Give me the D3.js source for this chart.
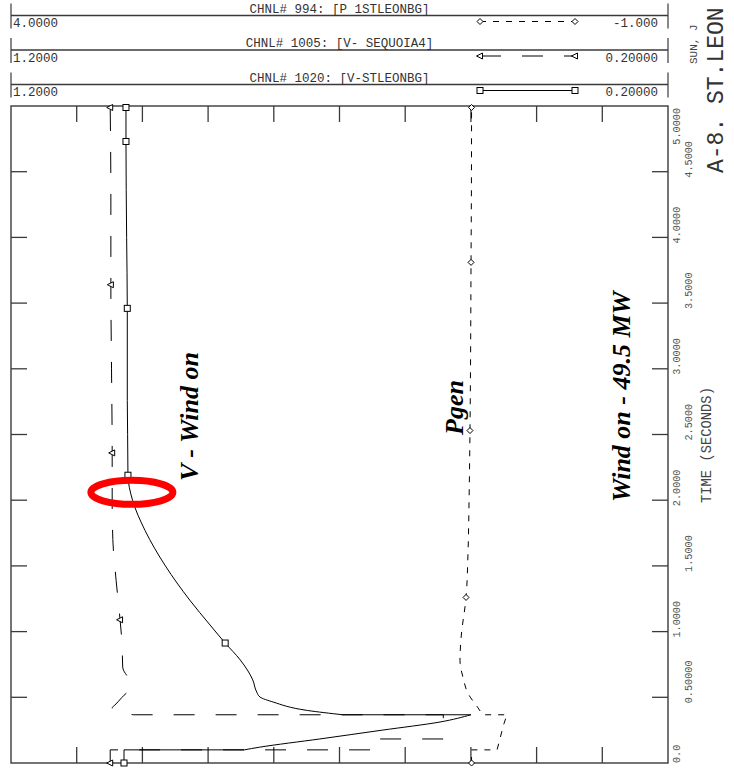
<!DOCTYPE html>
<html><head><meta charset="utf-8">
<script src="https://cdn.jsdelivr.net/npm/d3@7/dist/d3.min.js"></script>
<style>html,body{margin:0;padding:0;background:#fff;}svg{display:block;}</style>
</head><body>
<script>
// ---------- data ----------
const channelTitles = ["CHNL# 994: [P 1STLEONBG]", "CHNL# 1005: [V- SEQUOIA4]", "CHNL# 1020: [V-STLEONBG]"];
const channelLeftLabels = ["4.0000", "1.2000", "1.2000"];
const channelRightLabels = ["-1.000", "0.20000", "0.20000"];
const channelDomains = [[4.0, -1.0], [1.2, 0.2], [1.2, 0.2]];

const timeTicks = [0, 0.5, 1.0, 1.5, 2.0, 2.5, 3.0, 3.5, 4.0, 4.5, 5.0];
const timeTickLabels = ["0.0", "0.50000", "1.0000", "1.5000", "2.0000", "2.5000", "3.0000", "3.5000", "4.0000", "4.5000", "5.0000"];
const valueTickCount = 10;

// CHNL# 994  P 1STLEONBG (pu)
const pTime  = [0, 0.1, 0.1, 0.183, 0.30, 0.367, 0.367, 0.42, 0.53, 0.65, 0.78, 0.95, 1.26, 1.6, 2.0, 2.53, 3.0, 3.81, 4.4, 5.0];
const pValue = [0.495, 0.495, 0.301, 0.279, 0.248, 0.225, 0.41, 0.446, 0.522, 0.560, 0.583, 0.575, 0.537, 0.522, 0.514, 0.507, 0.503, 0.499, 0.496, 0.495];
const pMarkerTimes = [0, 1.26, 2.53, 3.81, 5.0];

// CHNL# 1005  V- SEQUOIA4 (pu)
const vSeqTime  = [0, 0.1, 0.1, 0.183, 0.183, 0.367, 0.367, 0.395, 0.42, 0.44, 0.50, 0.59, 0.73, 0.91, 1.09, 1.39, 1.70, 2.0, 2.36, 3.0, 3.64, 4.3, 5.0];
const vSeqValue = [1.049, 1.049, 0.638, 0.638, 0.542, 0.542, 1.014, 1.042, 1.046, 1.042, 1.031, 1.016, 1.030, 1.031, 1.034, 1.040, 1.045, 1.046, 1.046, 1.047, 1.048, 1.048, 1.049];
const vSeqMarkerTimes = [0, 1.09, 2.36, 3.64, 5.0];

// CHNL# 1020  V-STLEONBG (pu)
const vStlTime  = [0, 0.1, 0.1, 0.12, 0.183, 0.25, 0.312, 0.367, 0.367, 0.40, 0.464, 0.502, 0.54, 0.632, 0.784, 0.913, 1.05, 1.24, 1.5, 1.77, 2.0, 2.19, 2.5, 2.76, 3.46, 4.0, 4.73, 5.0];
const vStlValue = [1.028, 1.028, 0.845, 0.822, 0.730, 0.635, 0.547, 0.500, 0.695, 0.749, 0.801, 0.821, 0.826, 0.832, 0.851, 0.874, 0.897, 0.928, 0.965, 0.996, 1.015, 1.022, 1.0225, 1.023, 1.023, 1.024, 1.025, 1.025];
const vStlMarkerTimes = [0, 0.913, 2.19, 3.46, 4.73, 5.0];

// ---------- layout ----------
const W = 734, H = 769;
const L = 11, R = 668, T = 106, B = 763;
const svg = d3.select("body").append("svg").attr("width", W).attr("height", H);
const frameColor = "#3a3a3a";
const mono = "'Liberation Mono', 'DejaVu Sans Mono', monospace";

const y = d3.scaleLinear().domain([0, 5]).range([B, T]);
const xP = d3.scaleLinear().domain(channelDomains[0]).range([L, R]);
const xSeq = d3.scaleLinear().domain(channelDomains[1]).range([L, R]);
const xStl = d3.scaleLinear().domain(channelDomains[2]).range([L, R]);

// ---------- header ----------
const rowLines = [15.5, 50, 84.5];
const seriesStyles = [
  {dash: "6,7", marker: "diamond"},
  {dash: "21,21", marker: "triangle"},
  {dash: null, marker: "square"}
];

function drawMarker(g, type, cx, cy) {
  if (type === "square") {
    g.append("rect").attr("x", cx - 3).attr("y", cy - 3).attr("width", 6).attr("height", 6)
      .attr("fill", "#fff").attr("stroke", "#000").attr("stroke-width", 1);
  } else if (type === "diamond") {
    g.append("path").attr("d", `M${cx - 3},${cy}L${cx},${cy - 3}L${cx + 3},${cy}L${cx},${cy + 3}Z`)
      .attr("fill", "#fff").attr("stroke", "#000").attr("stroke-width", 1);
  } else {
    g.append("path").attr("d", `M${cx - 3.5},${cy}L${cx + 2.5},${cy - 3}L${cx + 2.5},${cy + 3}Z`)
      .attr("fill", "#fff").attr("stroke", "#000").attr("stroke-width", 1);
  }
}

const header = svg.append("g");
channelTitles.forEach((title, i) => {
  const ly = rowLines[i];
  header.append("line").attr("x1", L).attr("x2", R).attr("y1", ly).attr("y2", ly)
    .attr("stroke", frameColor).attr("stroke-width", 1.4);
  header.append("line").attr("x1", L).attr("x2", L).attr("y1", ly - 12).attr("y2", ly + 13)
    .attr("stroke", frameColor).attr("stroke-width", 1.2);
  header.append("line").attr("x1", R).attr("x2", R).attr("y1", ly - 12).attr("y2", ly + 13)
    .attr("stroke", frameColor).attr("stroke-width", 1.2);
  header.append("text").attr("x", (L + R) / 2).attr("y", ly - 3).attr("text-anchor", "middle")
    .attr("font-family", mono).attr("font-size", 12.5).attr("fill", "#333").text(title);
  header.append("text").attr("x", L + 2).attr("y", ly + 11.5)
    .attr("font-family", mono).attr("font-size", 12.5).attr("fill", "#333").text(channelLeftLabels[i]);
  header.append("text").attr("x", R - 10).attr("y", ly + 11.5).attr("text-anchor", "end")
    .attr("font-family", mono).attr("font-size", 12.5).attr("fill", "#333").text(channelRightLabels[i]);
  const sy = ly + 6;
  const st = seriesStyles[i];
  header.append("line").attr("x1", 480).attr("x2", 575).attr("y1", sy).attr("y2", sy)
    .attr("stroke", "#000").attr("stroke-width", 1).attr("stroke-dasharray", st.dash);
  drawMarker(header, st.marker, 480, sy);
  drawMarker(header, st.marker, 575, sy);
});

// ---------- frame & ticks ----------
const frame = svg.append("g");
frame.append("rect").attr("x", L).attr("y", T).attr("width", R - L).attr("height", B - T)
  .attr("fill", "none").attr("stroke", frameColor).attr("stroke-width", 1.4);

const vTicks = d3.range(1, valueTickCount).map(k => xStl.domain()[0] + (xStl.domain()[1] - xStl.domain()[0]) * k / valueTickCount);
vTicks.forEach(v => {
  const x = xStl(v);
  frame.append("line").attr("x1", x).attr("x2", x).attr("y1", T).attr("y2", T + 16).attr("stroke", frameColor).attr("stroke-width", 1.3);
  frame.append("line").attr("x1", x).attr("x2", x).attr("y1", B - 16).attr("y2", B).attr("stroke", frameColor).attr("stroke-width", 1.3);
});
timeTicks.slice(1, -1).forEach(t => {
  const yy = y(t);
  frame.append("line").attr("x1", L).attr("x2", L + 16).attr("y1", yy).attr("y2", yy).attr("stroke", frameColor).attr("stroke-width", 1.3);
  frame.append("line").attr("x1", R - 16).attr("x2", R).attr("y1", yy).attr("y2", yy).attr("stroke", frameColor).attr("stroke-width", 1.3);
});

// time tick labels (rotated)
timeTicks.forEach((t, i) => {
  const bx = (i % 2 === 0) ? 680 : 692;
  const txt = svg.append("text").attr("font-family", mono).attr("font-size", 10.2).attr("fill", "#555")
    .text(timeTickLabels[i]);
  const len = txt.node().getComputedTextLength();
  let start = Math.min(y(t) + 6, B);
  if (start - len < T + 2) start = T + 2 + len;
  txt.attr("transform", `translate(${bx},${start}) rotate(-90)`);
});

svg.append("text").attr("transform", `translate(711,503) rotate(-90)`)
  .attr("font-family", mono).attr("font-size", 13.8).attr("fill", "#444").text("TIME (SECONDS)");
svg.append("text").attr("transform", `translate(723,173) rotate(-90)`)
  .attr("font-family", mono).attr("font-size", 23).attr("fill", "#333").text("A-8. ST.LEON");
svg.append("text").attr("transform", `translate(697,64) rotate(-90)`)
  .attr("font-family", mono).attr("font-size", 11).attr("fill", "#444").text("SUN,  J");

// ---------- curves ----------
function buildPath(times, values, xs) {
  const segs = [];
  let cur = [];
  times.forEach((t, i) => {
    if (i > 0 && t === times[i - 1]) { segs.push(cur); cur = []; }
    cur.push([xs(values[i]), y(t)]);
  });
  segs.push(cur);
  const line = d3.line().curve(d3.curveMonotoneY);
  let d = "";
  segs.forEach((s, k) => {
    let sd = s.length > 1 ? line(s) : `M${s[0][0]},${s[0][1]}`;
    if (k > 0) sd = "L" + sd.slice(1);
    d += sd;
  });
  return d;
}
function interp(times, values, t) {
  for (let i = times.length - 1; i > 0; i--) {
    if (times[i - 1] <= t && t <= times[i] && times[i] !== times[i - 1]) {
      const f = (t - times[i - 1]) / (times[i] - times[i - 1]);
      return values[i - 1] + f * (values[i] - values[i - 1]);
    }
  }
  return values[0];
}

const clip = svg.append("defs").append("clipPath").attr("id", "plotclip");
clip.append("rect").attr("x", L).attr("y", T - 4).attr("width", R - L).attr("height", B - T + 8);
const curves = svg.append("g").attr("clip-path", "url(#plotclip)");

const series = [
  {times: pTime, values: pValue, xs: xP, marks: pMarkerTimes, style: seriesStyles[0]},
  {times: vSeqTime, values: vSeqValue, xs: xSeq, marks: vSeqMarkerTimes, style: seriesStyles[1]},
  {times: vStlTime, values: vStlValue, xs: xStl, marks: vStlMarkerTimes, style: seriesStyles[2]}
];
series.forEach(s => {
  curves.append("path").attr("d", buildPath(s.times, s.values, s.xs))
    .attr("fill", "none").attr("stroke", "#000").attr("stroke-width", 1)
    .attr("stroke-dasharray", s.style.dash);
});
series.forEach(s => {
  s.marks.forEach(t => {
    drawMarker(curves, s.style.marker, s.xs(interp(s.times, s.values, t)), Math.max(y(t), T + 1.5));
  });
});

// ---------- annotations ----------
const serif = "'Liberation Serif', 'Times New Roman', serif";
const notes = [
  {text: "V - Wind on", x: 198, y: 481},
  {text: "Pgen", x: 463, y: 435},
  {text: "Wind on - 49.5 MW", x: 630, y: 502}
];
notes.forEach(n => {
  svg.append("text").attr("transform", `translate(${n.x},${n.y}) rotate(-90)`)
    .attr("font-family", serif).attr("font-size", 26).attr("font-weight", "bold").attr("font-style", "italic")
    .attr("fill", "#000").text(n.text);
});

// red highlight ellipse
svg.append("ellipse").attr("cx", xStl(1.016)).attr("cy", y(2.06)).attr("rx", 41).attr("ry", 12)
  .attr("fill", "none").attr("stroke", "#ff0000").attr("stroke-width", 7);
</script>
</body></html>
